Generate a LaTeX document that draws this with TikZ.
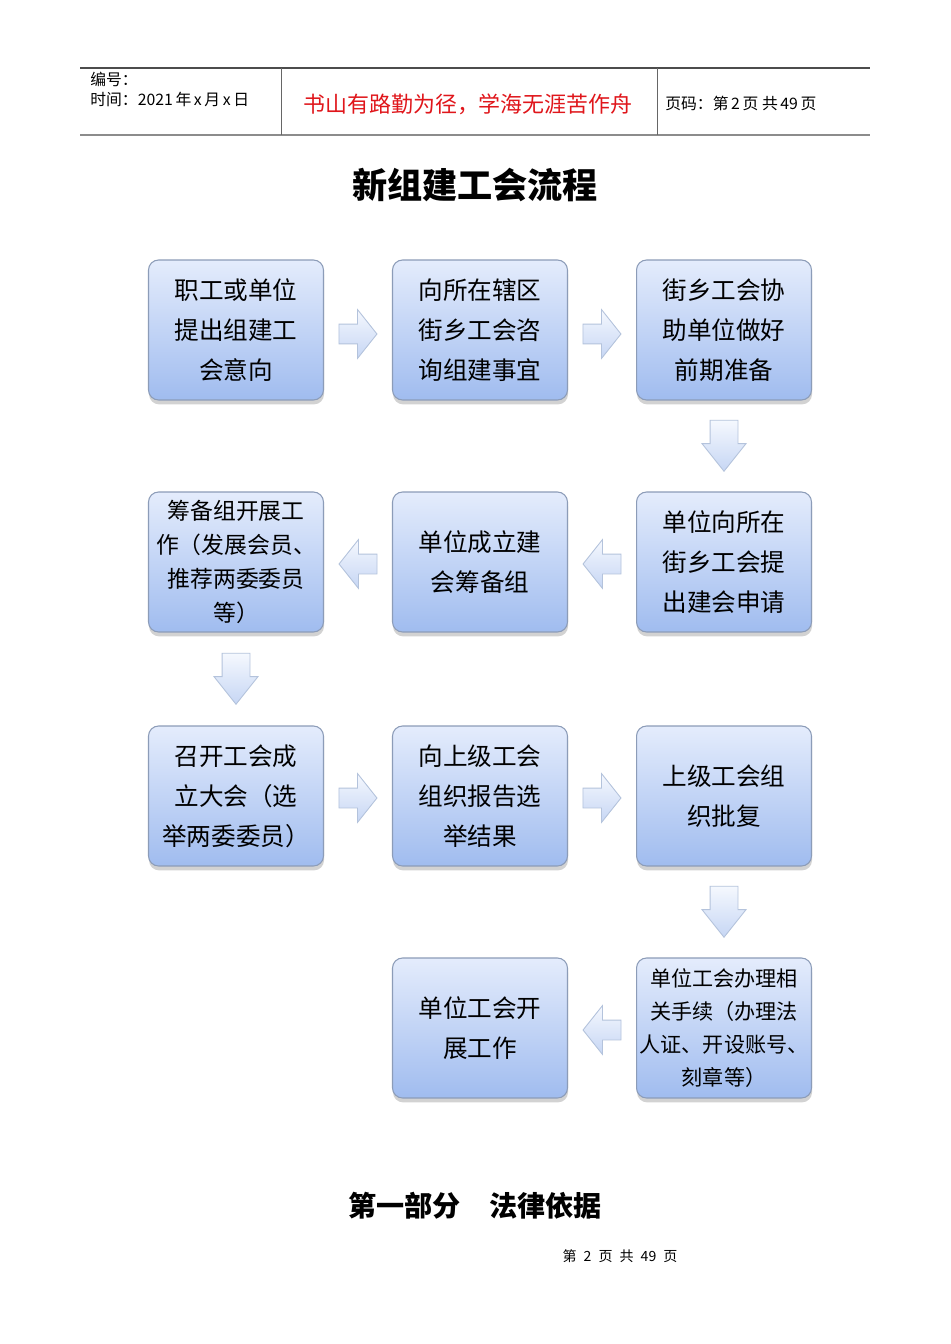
\documentclass[tikz,border=0pt]{standalone}
\usepackage{fontspec}
\setmainfont{Noto Sans CJK SC}
\newfontfamily\cjk{Noto Sans CJK SC}
\usetikzlibrary{shapes.arrows, shadows, positioning}
\definecolor{boxtop}{HTML}{E4ECFC}
\definecolor{boxbot}{HTML}{A0BCEF}
\definecolor{boxline}{HTML}{8C9CB8}
\definecolor{arrtop}{HTML}{F5F8FE}
\definecolor{arrbot}{HTML}{C6D6F4}
\definecolor{arrline}{HTML}{B4C3DC}
\definecolor{mottored}{HTML}{E0161B}
\tikzset{
	stepbox/.style={
			shape=rectangle,
			rounded corners=0.2cm,
			draw=boxline,
			line width=0.6pt,
			top color=boxtop,
			bottom color=boxbot,
			minimum width=3.5cm,
			minimum height=2.8cm,
			inner sep=0pt,
			align=center,
			font=\cjk\fontsize{14}{22.7}\selectfont,
			drop shadow={shadow xshift=0.3pt, shadow yshift=-2.5pt, opacity=0.35}
		},
	smalltext/.style={
			font=\cjk\fontsize{13}{19.3}\selectfont
		},
	tinytext/.style={
			font=\cjk\fontsize{12}{18.7}\selectfont
		}
}
\tikzset{
	flowarrow/.style={
			single arrow,
			draw=arrline,
			line width=0.5pt,
			top color=arrtop,
			bottom color=arrbot
		},
	rightarrow/.style={
			flowarrow,
			inner sep=0.19cm,
			minimum height=0.76cm,
			single arrow head extend=0.29cm,
			single arrow tip angle=103
		},
	leftarrow/.style={
			rightarrow,
			shape border rotate=180
		},
	downarrow/.style={
			flowarrow,
			inner sep=0.27cm,
			minimum height=1.02cm,
			single arrow head extend=0.16cm,
			single arrow tip angle=77,
			shape border rotate=270
		}
}
\tikzset{
	headtext/.style={font=\cjk\fontsize{9}{10}\selectfont, inner sep=0pt}
}

\begin{document}
\begin{tikzpicture}[x=0.02cm, y=-0.02cm]

  \fill[white] (0,0) rectangle (950,1344);
  \useasboundingbox (0,0) rectangle (950,1344);

  % header
  \draw[black!70, line width=0.6pt] (80,68) -- (870,68);
  \draw[black!45, line width=1.6pt] (80,135) -- (870,135);
  \draw[black!60, line width=0.5pt] (281,68) -- (281,135);
  \draw[black!60, line width=0.5pt] (657,68) -- (657,135);

  \node[headtext, anchor=west] (h1) at (90,79) {编号：};
  \node[headtext, anchor=west] (h2) at (90,99) {时间：2021\,年\,x\,月\,x\,日};
  \node[font=\cjk\fontsize{12.5}{14}\selectfont, text=mottored, inner sep=0pt] (h3) at (468,104) {书山有路勤为径，学海无涯苦作舟};
  \node[headtext, anchor=west] (h4) at (665,103) {页码：第\,2\,页\ 共\,49\,页};

  \node[font=\cjk\bfseries\fontsize{20}{24}\selectfont] (title) at (475,185) {新组建工会流程};

  % boxes
  \node[stepbox] (b11) at (236,330) {职工或单位\\提出组建工\\会意向};
  \node[stepbox] (b12) at (480,330) {向所在辖区\\街乡工会咨\\询组建事宜};
  \node[stepbox] (b13) at (724,330) {街乡工会协\\助单位做好\\前期准备};

  \node[stepbox, smalltext] (b21) at (236,562) {筹备组开展工\\作（发展会员、\\推荐两委委员\\等）};
  \node[stepbox] (b22) at (480,562) {单位成立建\\会筹备组};
  \node[stepbox] (b23) at (724,562) {单位向所在\\街乡工会提\\出建会申请};

  \node[stepbox] (b31) at (236,796) {召开工会成\\立大会（选\\举两委委员）};
  \node[stepbox] (b32) at (480,796) {向上级工会\\组织报告选\\举结果};
  \node[stepbox] (b33) at (724,796) {上级工会组\\织批复};

  \node[stepbox] (b42) at (480,1028) {单位工会开\\展工作};
  \node[stepbox, tinytext] (b43) at (724,1028) {单位工会办理相\\关手续（办理法\\人证、开设账号、\\刻章等）};

  % arrows
  \node[rightarrow] (a1) at (354,334) {};
  \node[rightarrow] (a2) at (598,334) {};
  \node[downarrow] (a3) at (724,437) {};
  \node[leftarrow] (a4) at (606,564) {};
  \node[leftarrow] (a5) at (362,564) {};
  \node[downarrow] (a6) at (236,670) {};
  \node[rightarrow] (a7) at (354,798) {};
  \node[rightarrow] (a8) at (598,798) {};
  \node[downarrow] (a9) at (724,903) {};
  \node[leftarrow] (a10) at (606,1030) {};

  % footer
  \node[font=\cjk\bfseries\fontsize{16}{20}\selectfont] (part) at (475,1206) {第一部分\hspace{1em}法律依据};
  \node[font=\cjk\fontsize{8}{9}\selectfont] (foot) at (620,1256) {第\enspace 2\enspace 页\enspace 共\enspace 49\enspace 页};

\end{tikzpicture}
\end{document}
